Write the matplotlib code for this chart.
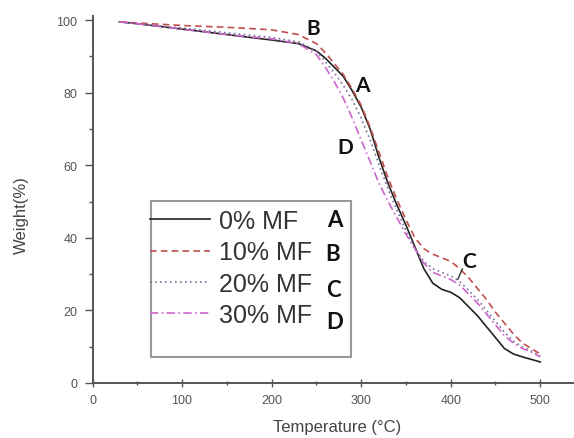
import matplotlib.pyplot as plt
from matplotlib.patches import Rectangle
from matplotlib.ticker import MultipleLocator

# temperature grid (°C) and weight (%)
temp = [30, 50, 100, 150, 200, 230, 250, 260, 270, 280, 290, 300, 310, 320, 330, 340,
        350, 360, 370, 380, 390, 400, 410, 420, 430, 440, 450, 460, 470, 480, 490, 500]
w_0 = [99.5, 99.0, 97.5, 96.0, 94.5, 93.5, 91.5, 89.5, 87.0, 84.5, 80.5, 76.0, 70.0, 62.0, 55.0, 49.0,
       43.5, 37.5, 31.5, 27.5, 25.8, 25.0, 23.5, 21.0, 18.5, 15.5, 12.5, 9.5, 8.0, 7.2, 6.5, 5.8]
w_10 = [99.5, 99.2, 98.5, 98.0, 97.3, 96.0, 93.5, 91.0, 88.0, 85.0, 81.0, 76.5, 70.5, 63.5, 56.5, 50.5,
        45.0, 40.0, 37.0, 35.5, 34.5, 33.5, 31.5, 29.0, 26.0, 23.0, 19.5, 16.5, 13.5, 11.0, 9.5, 8.0]
w_20 = [99.5, 99.0, 97.8, 96.5, 95.2, 94.0, 91.5, 88.5, 85.5, 82.0, 78.0, 73.0, 67.0, 60.0, 53.5, 47.5,
        42.0, 37.0, 33.5, 31.5, 30.5, 29.5, 28.0, 25.5, 23.0, 20.0, 17.0, 14.0, 11.5, 10.0, 8.8, 7.5]
w_30 = [99.5, 99.0, 97.5, 96.0, 94.8, 93.5, 90.5, 87.0, 83.0, 78.5, 73.0, 67.0, 61.0, 55.0, 50.0, 45.5,
        41.0, 37.0, 33.0, 30.5, 29.5, 28.5, 27.0, 24.5, 22.0, 19.0, 16.0, 13.0, 11.0, 9.5, 8.5, 7.2]

labels = ['0% MF', '10% MF', '20% MF', '30% MF']
letters = ['A', 'B', 'C', 'D']
colors = ['#222222', '#c0504d', '#77709a', '#cc66cc']
dashes = [(None, None), (4, 2.5), (1, 2), (5, 2, 1, 2)]

# letter annotations on curves (x, y)
letter_pos = {'B': (246, 97.7), 'A': (301, 82), 'D': (282, 65), 'C': (421, 33.7)}
# letters next to the legend rows (axes fraction)
legend_letter_pos = [(0.505, 0.447), (0.501, 0.352), (0.501, 0.256), (0.505, 0.169)]

plt.rcParams['font.family'] = ['Liberation Sans', 'DejaVu Sans']

fig = plt.figure(figsize=(5.74, 4.39), dpi=100)
ax = fig.add_axes([92.5 / 574, 1 - 384 / 439, 480 / 574, 366.6 / 439])

series = [w_0, w_10, w_20, w_30]
handles = []
for ys, lab, c, d in zip(series, labels, colors, dashes):
    ln, = ax.plot(temp, ys, color=c, lw=1.2, label=lab)
    if d[0] is not None:
        ln.set_dashes(d)
    handles.append(ln)

ax.set_xlim(0, 536)
ax.set_ylim(0, 101)
ax.xaxis.set_major_locator(MultipleLocator(100))
ax.xaxis.set_minor_locator(MultipleLocator(50))
ax.yaxis.set_major_locator(MultipleLocator(20))
ax.yaxis.set_minor_locator(MultipleLocator(10))
for s in ['top', 'right']:
    ax.spines[s].set_visible(False)
for s in ['left', 'bottom']:
    ax.spines[s].set_color('#555555')
    ax.spines[s].set_linewidth(1.4)
ax.tick_params(axis='x', which='both', direction='inout', colors='#555555', labelsize=9)
ax.tick_params(axis='y', which='both', direction='out', colors='#555555', labelsize=9)
ax.tick_params(which='major', length=6, width=1, pad=5)
ax.tick_params(which='minor', length=3, width=1)
ax.set_xlabel('Temperature (°C)', fontsize=12, color='#444444', labelpad=9, x=0.51)
ax.set_ylabel('Weight(%)', fontsize=12, color='#444444', labelpad=20, y=0.46)

# legend box
ax.add_patch(Rectangle(((151 - 92.5) / 480, (384 - 358) / 366.6), 200 / 480, 156 / 366.6,
                       transform=ax.transAxes, fill=False, edgecolor='#999999', lw=1.5, zorder=3))
leg = ax.legend(handles=handles, loc='upper left', bbox_to_anchor=(0.12, 0.474),
                frameon=False, fontsize=18, handlelength=2.4, handletextpad=0.36,
                labelspacing=0.29, borderaxespad=0, borderpad=0)
for t in leg.get_texts():
    t.set_color('#333333')

for L, (x, y) in zip(letters, legend_letter_pos):
    ax.text(x, y, L, transform=ax.transAxes, fontsize=16,
            fontweight='bold', family='Lato', ha='center', va='center', color='#111111')

# letters on curves
for L, (x, y) in letter_pos.items():
    ax.text(x, y, L, fontsize=15, fontweight='bold', family='Lato',
            ha='center', va='center', color='#111111')
ax.plot([413, 408], [31.4, 28.6], color='#333333', lw=1)

fig.savefig('out.png', dpi=100)
